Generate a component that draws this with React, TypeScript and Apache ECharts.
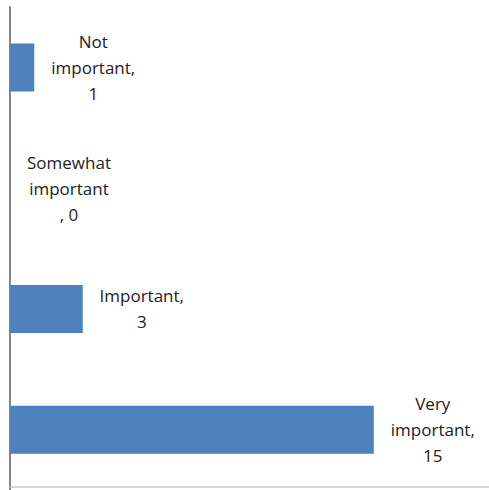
import React, { useEffect, useRef } from "react";
import * as echarts from "echarts";

const categories = ["Not important", "Somewhat important", "Important", "Very important"];
const values = [1, 0, 3, 15];
const labelLines = [
  ["Not", "important,", "1"],
  ["Somewhat", "important", ", 0"],
  ["Important,", "3"],
  ["Very", "important,", "15"],
];

export default function App() {
  const ref = useRef<HTMLDivElement>(null);
  useEffect(() => {
    if (!ref.current) return;
    const chart = echarts.init(ref.current, undefined, { renderer: "svg" });
    chart.setOption({
      animation: false,
      grid: { left: 10, top: 7, right: 0, height: 484, containLabel: false },
      xAxis: {
        type: "value",
        min: 0,
        max: 19.75,
        offset: -3,
        axisLine: { show: true, lineStyle: { color: "#c8c8c8", width: 1.5 } },
        axisTick: { show: false },
        axisLabel: { show: false },
        splitLine: { show: false },
      },
      yAxis: {
        type: "category",
        inverse: true,
        data: categories,
        axisLine: { show: true, lineStyle: { color: "#868686", width: 2 } },
        axisTick: { show: false },
        axisLabel: { show: false },
      },
      series: [
        {
          type: "bar",
          barWidth: 48,
          data: values,
          itemStyle: { color: "#4f81bd" },
          label: {
            show: true,
            position: "right",
            distance: 4,
            formatter: (p: any) =>
              labelLines[p.dataIndex].map((l) => "{c|" + l + "}").join("\n"),
            rich: {
              c: {
                width: 110,
                align: "center",
                fontFamily: "Open Sans",
                fontSize: 17,
                lineHeight: 26,
                color: "#222222",
              },
            },
          },
        },
      ],
    });
    return () => chart.dispose();
  }, []);
  return (
    <div
      ref={ref}
      style={{ position: "fixed", left: 0, top: 0, width: 489, height: 490, background: "#fff" }}
    />
  );
}
